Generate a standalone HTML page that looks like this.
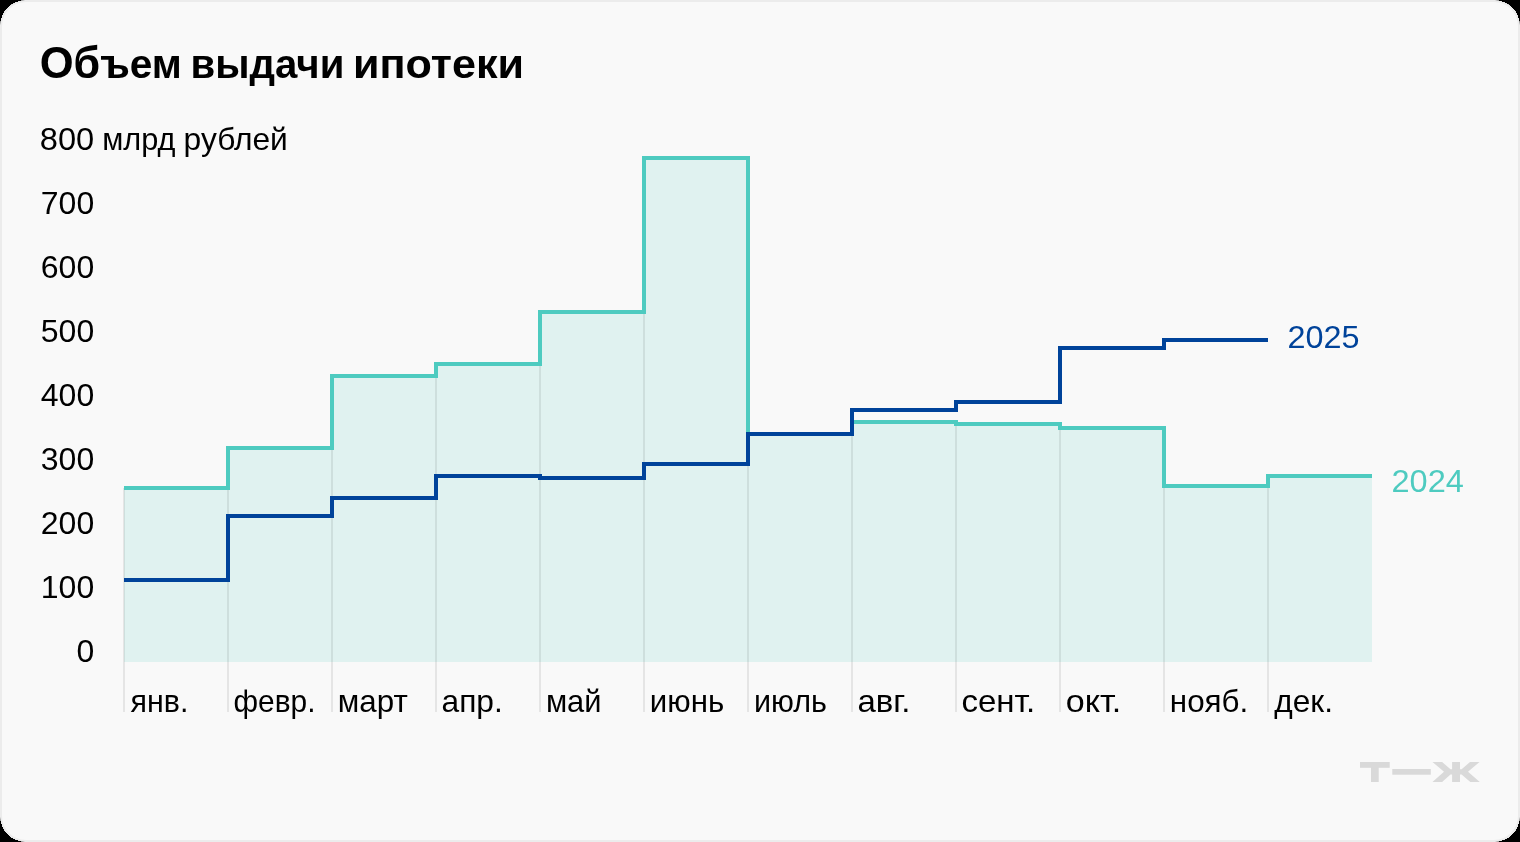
<!DOCTYPE html>
<html><head><meta charset="utf-8"><style>
html,body{margin:0;padding:0;background:#000;width:1520px;height:842px;overflow:hidden}
.card{position:absolute;left:0;top:0;width:1520px;height:842px;border-radius:25px;background:#ececec;overflow:hidden}
.inner{position:absolute;left:2px;top:2px;right:2px;bottom:2px;border-radius:24px;background:#f9f9f9}
svg{position:absolute;left:0;top:0;will-change:transform}
text{font-family:"Liberation Sans",sans-serif}
</style></head><body>
<div class="card"><div class="inner"></div></div>
<svg width="1520" height="842" viewBox="0 0 1520 842">
<g font-size="41.5" font-weight="bold" fill="#000"><text x="39.69" y="78" textLength="142.16" lengthAdjust="spacingAndGlyphs"><tspan font-size="44.5">О</tspan><tspan font-size="44">б</tspan>ъем</text><text x="190.54" y="78" textLength="153.78" lengthAdjust="spacingAndGlyphs">выдачи</text><text x="353.04" y="78" textLength="171.01" lengthAdjust="spacingAndGlyphs">ипотеки</text></g>
<g font-size="32" fill="#000"><text x="39.83" y="150" textLength="54.44" lengthAdjust="spacingAndGlyphs">800</text><text x="94.2" y="214" text-anchor="end">700</text><text x="94.2" y="278" text-anchor="end">600</text><text x="94.2" y="342" text-anchor="end">500</text><text x="94.2" y="406" text-anchor="end">400</text><text x="94.2" y="470" text-anchor="end">300</text><text x="94.2" y="534" text-anchor="end">200</text><text x="94.2" y="598" text-anchor="end">100</text><text x="94.2" y="662" text-anchor="end">0</text></g><g font-size="30.5" fill="#000"><text x="102.19" y="150" textLength="73.24" lengthAdjust="spacingAndGlyphs">млрд</text><text x="183.62" y="150" textLength="104.18" lengthAdjust="spacingAndGlyphs">рублей</text></g>
<path d="M124,662V488H228V448H332V376H436V364H540V312H644V158H748V434H852V422H956V424H1060V428H1164V486H1268V476H1372V662Z" fill="#e0f2f0"/>
<g fill="#000" fill-opacity="0.08"><rect x="123" y="488" width="2" height="224"/><rect x="227" y="488" width="2" height="224"/><rect x="331" y="448" width="2" height="264"/><rect x="435" y="376" width="2" height="336"/><rect x="539" y="364" width="2" height="348"/><rect x="643" y="312" width="2" height="400"/><rect x="747" y="434" width="2" height="278"/><rect x="851" y="434" width="2" height="278"/><rect x="955" y="424" width="2" height="288"/><rect x="1059" y="428" width="2" height="284"/><rect x="1163" y="486" width="2" height="226"/><rect x="1267" y="486" width="2" height="226"/></g>
<g font-size="30.5" fill="#000"><text x="130.55" y="712" textLength="57.84" lengthAdjust="spacingAndGlyphs">янв.</text><text x="233.58" y="712" textLength="81.87" lengthAdjust="spacingAndGlyphs">февр.</text><text x="337.85" y="712" textLength="69.91" lengthAdjust="spacingAndGlyphs">март</text><text x="441.5" y="712" textLength="61.28" lengthAdjust="spacingAndGlyphs">апр.</text><text x="545.88" y="712" textLength="55.62" lengthAdjust="spacingAndGlyphs">май</text><text x="649.85" y="712" textLength="74.43" lengthAdjust="spacingAndGlyphs">июнь</text><text x="753.9" y="712" textLength="72.99" lengthAdjust="spacingAndGlyphs">июль</text><text x="857.45" y="712" textLength="52.97" lengthAdjust="spacingAndGlyphs">авг.</text><text x="961.45" y="712" textLength="73.8" lengthAdjust="spacingAndGlyphs">сент.</text><text x="1065.7" y="712" textLength="55.53" lengthAdjust="spacingAndGlyphs">окт.</text><text x="1169.84" y="712" textLength="78.4" lengthAdjust="spacingAndGlyphs">нояб.</text><text x="1274.34" y="712" textLength="58.63" lengthAdjust="spacingAndGlyphs">дек.</text></g>
<path d="M124,488H228V448H332V376H436V364H540V312H644V158H748V434H852V422H956V424H1060V428H1164V486H1268V476H1372" fill="none" stroke="#4ecbc0" stroke-width="4"/>
<path d="M124,580H228V516H332V498H436V476H540V478H644V464H748V434H852V410H956V402H1060V348H1164V340H1268" fill="none" stroke="#00439a" stroke-width="4"/>
<g font-size="32"><text x="1287.38" y="348" textLength="72.02" lengthAdjust="spacingAndGlyphs" fill="#00439a">2025</text><text x="1391.47" y="492" textLength="72.38" lengthAdjust="spacingAndGlyphs" fill="#4ecbc0">2024</text></g>
<g fill="#d9d9d9"><rect x="1360" y="762" width="29.7" height="5.8"/><rect x="1371" y="762" width="7.7" height="20"/><rect x="1392.3" y="769" width="38.5" height="5.7"/><path d="M1432.5,762 L1442.1,762 L1450.5,769.2 L1452.1,769.2 L1452.1,762 L1460,762 L1460,769.2 L1461.6,769.2 L1470,762 L1479.5,762 L1468,771.8 L1479.8,782 L1470.3,782 L1461.6,774.5 L1460,774.5 L1460,782 L1452.1,782 L1452.1,774.5 L1450.5,774.5 L1442.1,782 L1432.4,782 L1444,771.8 Z"/></g>
<g fill="#000" shape-rendering="crispEdges"><path d="M0,0H26A26,26 0 0 0 0,26Z"/><path d="M1520,0H1494A26,26 0 0 1 1520,26Z"/><path d="M0,842H26A26,26 0 0 1 0,816Z"/><path d="M1520,842H1494A26,26 0 0 0 1520,816Z"/></g>
</svg>
</body></html>
